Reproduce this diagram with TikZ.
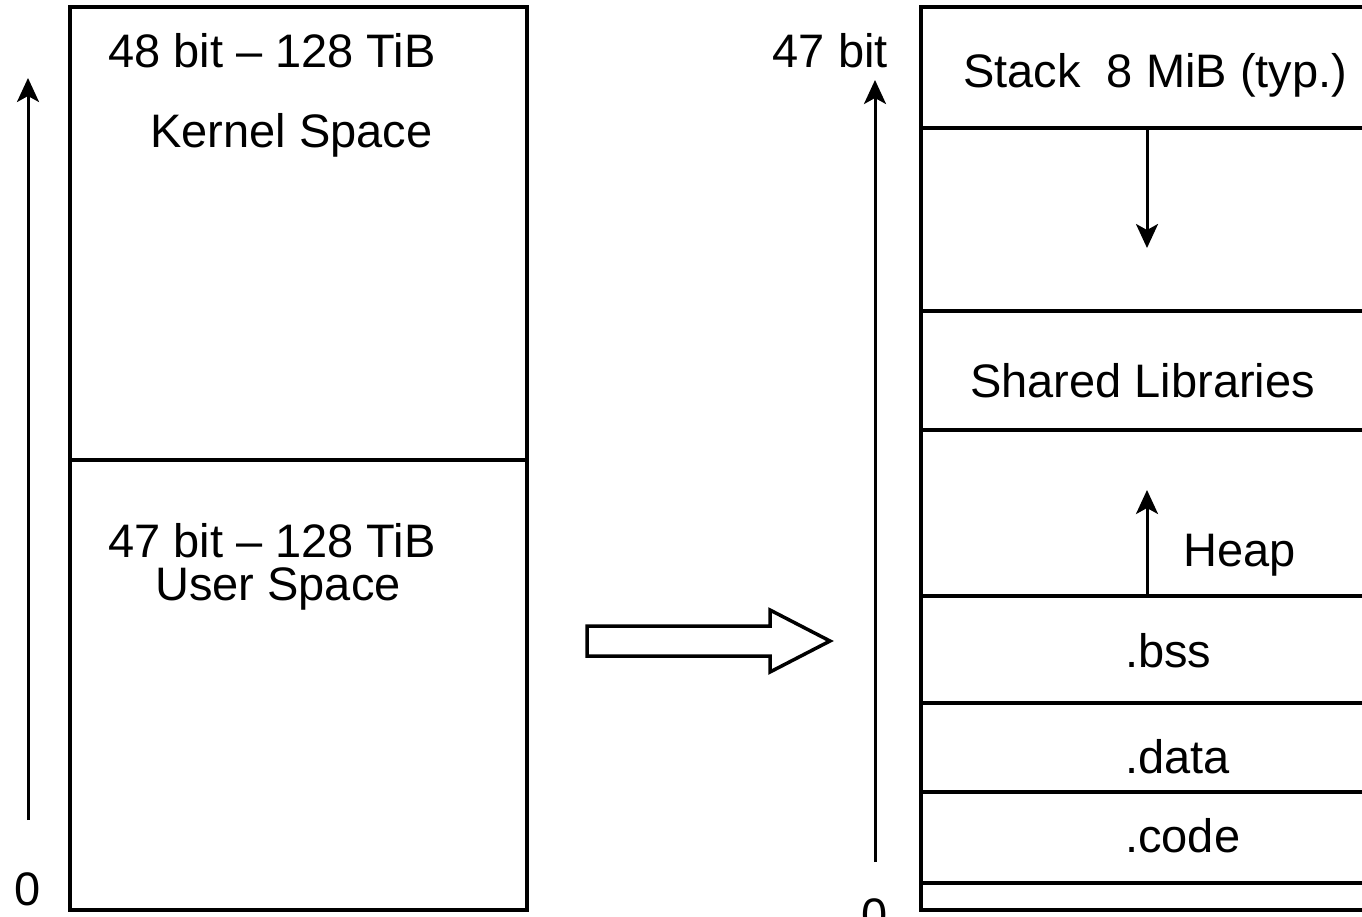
\documentclass[tikz,border=0pt]{standalone}
\usepackage{fontspec}
\setmainfont{Liberation Sans}
\usetikzlibrary{arrows.meta}
\begin{document}
\begin{tikzpicture}[x=1pt,y=-1pt,
  box/.style={line width=4.5pt},
  sep/.style={line width=3.5pt},
  lbl/.style={inner sep=0pt,anchor=base west,font=\fontsize{47}{56}\selectfont},
  lblc/.style={inner sep=0pt,anchor=base,font=\fontsize{47}{56}\selectfont},
  axis/.style={line width=3pt,-{Stealth[length=24pt,width=22pt,inset=6pt]}}]
\path[use as bounding box] (0,0) rectangle (1362,916);
% left box
\draw[box] (70,7) rectangle (527,910);
\draw[sep] (70,460) -- (527,460);
\node[lbl] (k1) at (108,67) {48 bit – 128 TiB};
\node[lbl] (k2) at (150,147) {Kernel Space};
\node[lbl] (u1) at (108,557) {47 bit – 128 TiB};
\node[lbl] (u2) at (155,600) {User Space};
% left axis
\node[lblc] (z1) at (28,905) {0};
\coordinate (a1s) at (28,820);
\coordinate (a1e) at (28,78);
\draw[axis] (a1s) -- (a1e);
% block arrow
\draw[line width=3.5pt,line join=miter] (587,626) -- (770,626) -- (770,610) -- (830,641) -- (770,672) -- (770,656) -- (587,656) -- cycle;
% right box
\draw[box] (921,7) rectangle (1390,910);
\foreach \y in {128,311,430,596,703,792,883} \draw[sep] (921,\y) -- (1390,\y);
\node[lbl] (s) at (963,87) {Stack\ \ 8 MiB (typ.)};
\node[lbl] (sl) at (970,397) {Shared Libraries};
\node[lbl] (hp) at (1183,566) {Heap};
\node[lbl] (bss) at (1125,667) {.bss};
\node[lbl] (dat) at (1125,773) {.data};
\node[lbl] (cod) at (1125,852) {.code};
\node[lbl,anchor=base east] (b47) at (888,67) {47 bit};
\node[lblc] (z2) at (875,931) {0};
\coordinate (a2s) at (875,862);
\coordinate (a2e) at (875,80);
\draw[axis] (a2s) -- (a2e);
\coordinate (st1) at (1147,128);
\coordinate (st2) at (1147,248);
\draw[axis] (st1) -- (st2);
\coordinate (h1) at (1147,596);
\coordinate (h2) at (1147,490);
\draw[axis] (h1) -- (h2);
\end{tikzpicture}
\end{document}
